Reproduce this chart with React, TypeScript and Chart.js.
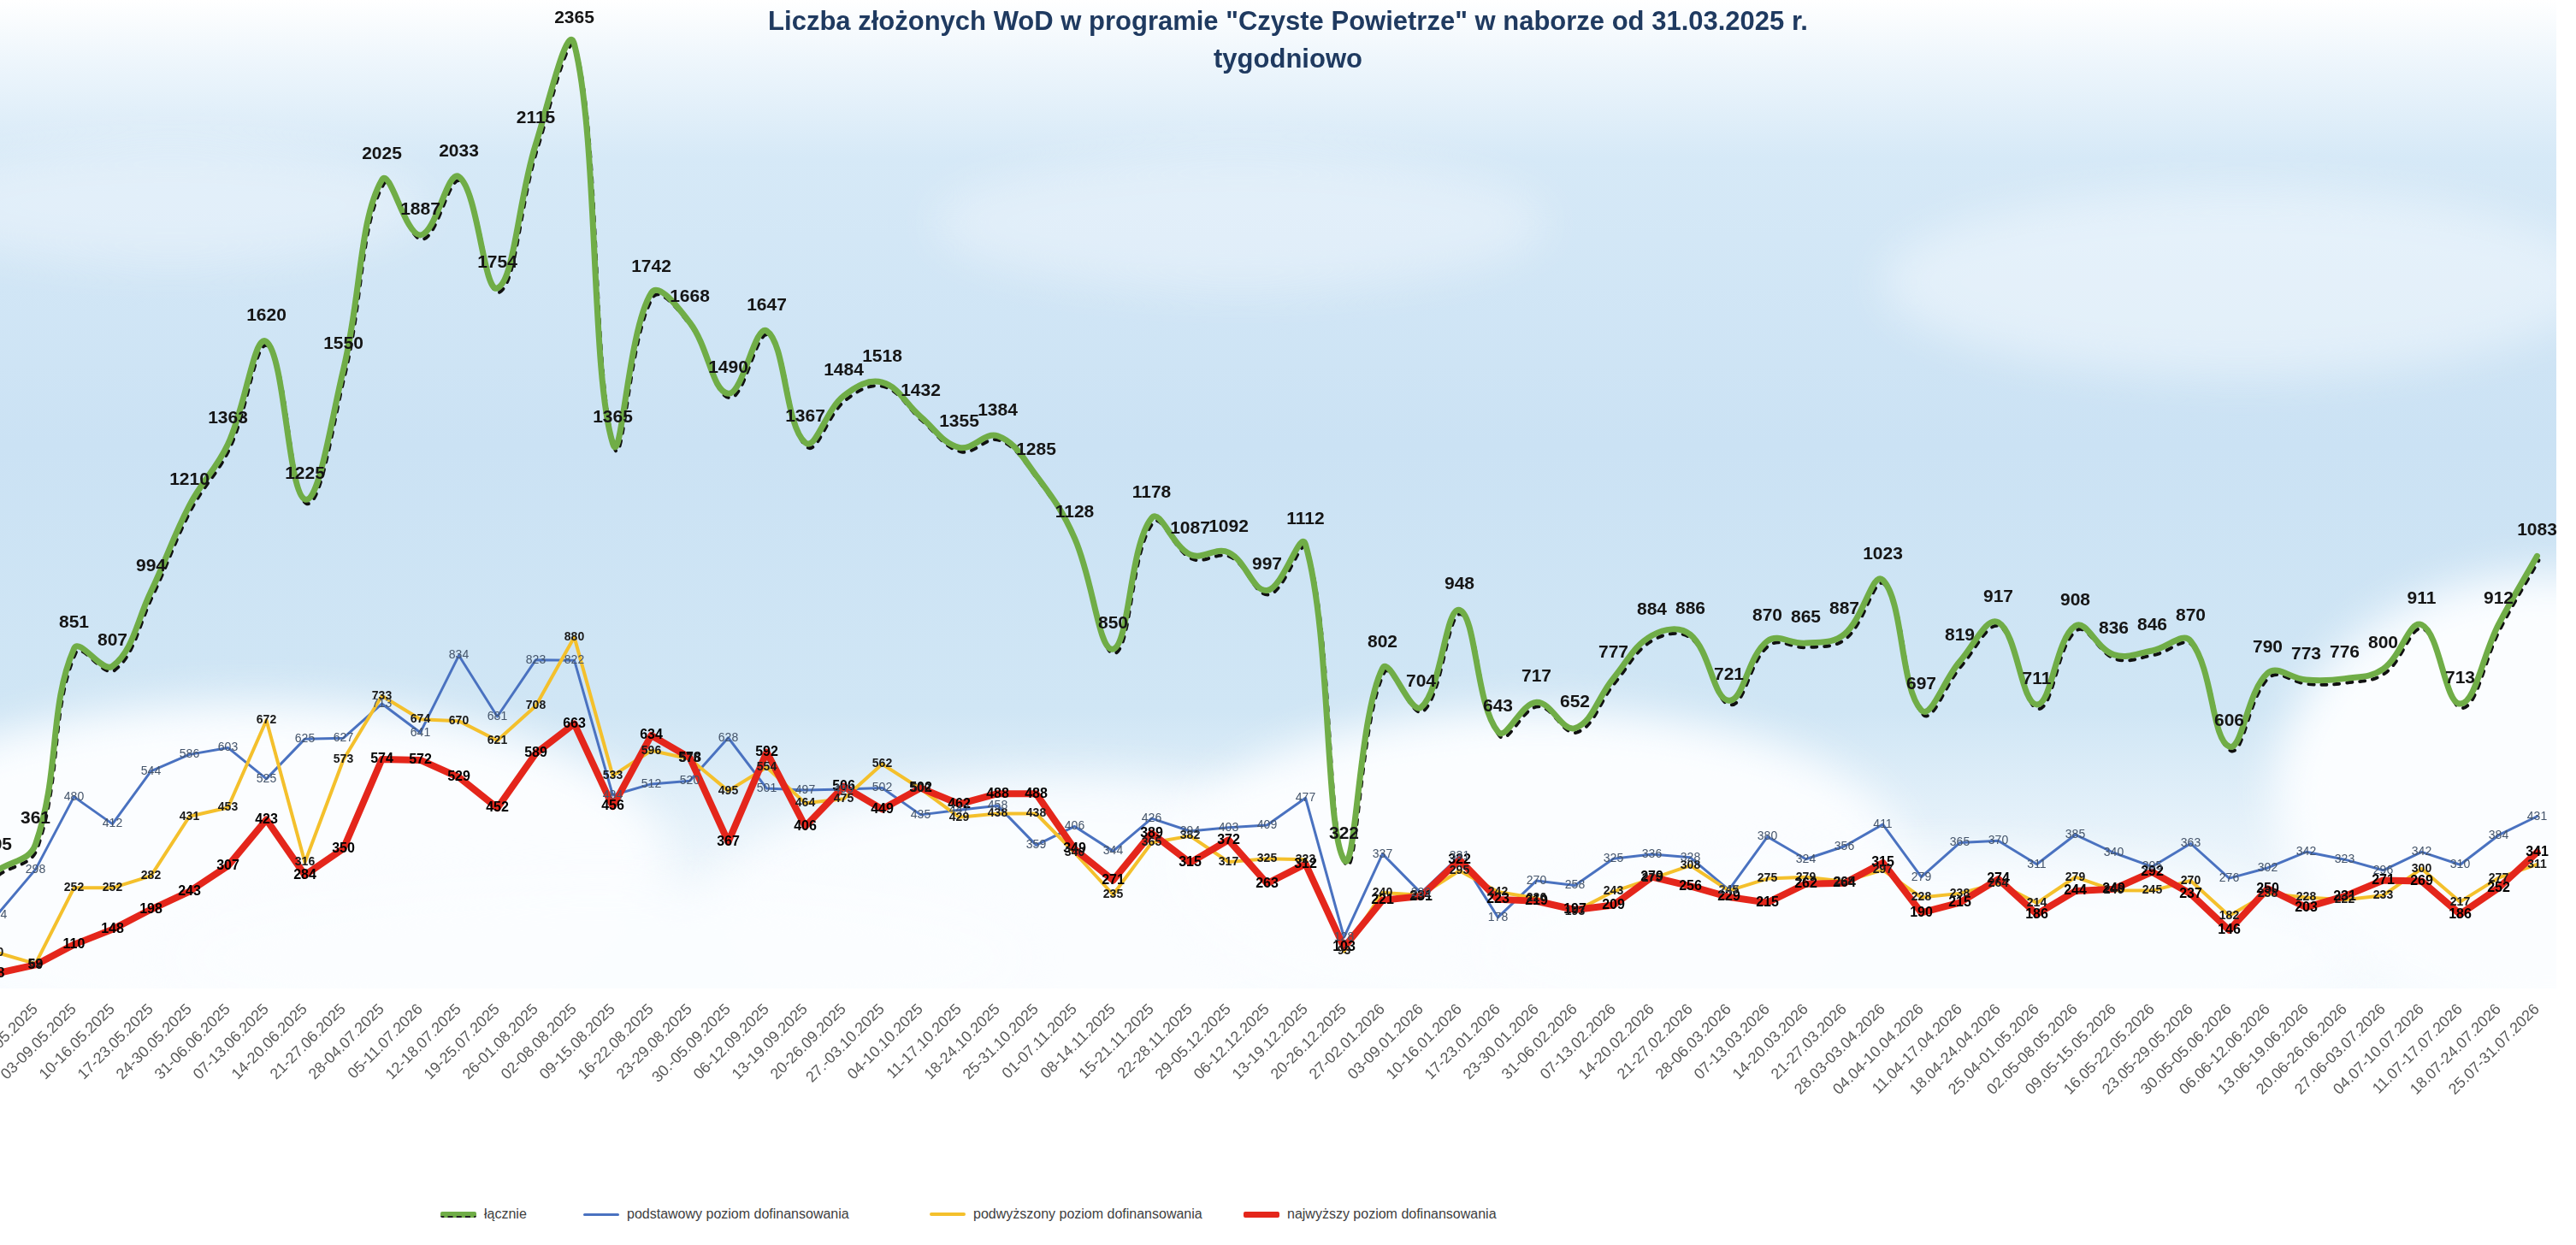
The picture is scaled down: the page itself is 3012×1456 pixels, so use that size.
import { useEffect, useRef } from "react";
import { Chart, registerables } from "chart.js";
Chart.register(...registerables);

const FONT = '"Liberation Sans", Arial, sans-serif';

const weeks = [
  "19-25.04.2025", "26-02.05.2025", "03-09.05.2025", "10-16.05.2025", "17-23.05.2025", "24-30.05.2025",
  "31-06.06.2025", "07-13.06.2025", "14-20.06.2025", "21-27.06.2025", "28-04.07.2025", "05-11.07.2026",
  "12-18.07.2025", "19-25.07.2025", "26-01.08.2025", "02-08.08.2025", "09-15.08.2025", "16-22.08.2025",
  "23-29.08.2025", "30.-05.09.2025", "06-12.09.2025", "13-19.09.2025", "20-26.09.2025", "27.-03.10.2025",
  "04-10.10.2025", "11-17.10.2025", "18-24.10.2025", "25-31.10.2025", "01-07.11.2025", "08-14.11.2025",
  "15-21.11.2025", "22-28.11.2025", "29-05.12.2025", "06-12.12.2025", "13-19.12.2025", "20-26.12.2025",
  "27-02.01.2026", "03-09.01.2026", "10-16.01.2026", "17-23.01.2026", "23-30.01.2026", "31-06.02.2026",
  "07-13.02.2026", "14-20.02.2026", "21-27.02.2026", "28-06.03.2026", "07-13.03.2026", "14-20.03.2026",
  "21-27.03.2026", "28.03-03.04.2026", "04.04-10.04.2026", "11.04-17.04.2026", "18.04-24.04.2026",
  "25.04-01.05.2026", "02.05-08.05.2026", "09.05-15.05.2026", "16.05-22.05.2026", "23.05-29.05.2026",
  "30.05-05.06.2026", "06.06-12.06.2026", "13.06-19.06.2026", "20.06-26.06.2026", "27.06-03.07.2026",
  "04.07-10.07.2026", "11.07-17.07.2026", "18.07-24.07.2026", "25.07-31.07.2026",
];

// łącznie
const total = [
  295, 361, 851, 807, 994, 1210, 1363, 1620, 1225, 1550, 2025, 1887, 2033, 1754, 2115, 2365, 1365,
  1742, 1668, 1490, 1647, 1367, 1484, 1518, 1432, 1355, 1384, 1285, 1128, 850, 1178, 1087, 1092, 997,
  1112, 322, 802, 704, 948, 643, 717, 652, 777, 884, 886, 721, 870, 865, 887, 1023, 697, 819, 917, 711,
  908, 836, 846, 870, 606, 790, 773, 776, 800, 911, 713, 912, 1083,
];

// podstawowy poziom dofinansowania
const basic = [
  184, 298, 480, 412, 544, 586, 603, 525, 625, 627, 713, 641, 834, 681, 823, 822, 484, 512, 520, 628,
  501, 497, 499, 502, 435, 447, 458, 359, 406, 344, 426, 394, 403, 409, 477, 128, 337, 239, 331, 178,
  270, 258, 325, 336, 328, 247, 380, 324, 356, 411, 279, 365, 370, 311, 385, 340, 305, 363, 276, 302,
  342, 323, 296, 342, 310, 384, 431,
];

// podwyższony poziom dofinansowania
const raised = [
  90, 62, 252, 252, 282, 431, 453, 672, 316, 573, 733, 674, 670, 621, 708, 880, 533, 596, 575, 495,
  554, 464, 475, 562, 500, 429, 438, 438, 340, 235, 365, 382, 317, 325, 323, 93, 240, 234, 295, 242,
  226, 193, 243, 275, 308, 245, 275, 279, 268, 297, 228, 238, 264, 214, 279, 246, 245, 270, 182, 238,
  228, 222, 233, 300, 217, 277, 311,
];

// najwyższy poziom dofinansowania
const highest = [
  38, 59, 110, 148, 198, 243, 307, 423, 284, 350, 574, 572, 529, 452, 589, 663, 456, 634, 578, 367,
  592, 406, 506, 449, 502, 462, 488, 488, 349, 271, 389, 315, 372, 263, 312, 103, 221, 231, 322, 223,
  219, 197, 209, 279, 256, 229, 215, 262, 264, 315, 190, 215, 274, 186, 244, 249, 292, 237, 146, 250,
  203, 231, 271, 269, 186, 252, 341,
];

const seriesNames = [
  "łącznie",
  "podstawowy poziom dofinansowania",
  "podwyższony poziom dofinansowania",
  "najwyższy poziom dofinansowania",
];
const seriesColors = ["#70ad47", "#4a72c0", "#f4c02c", "#e4261b"];

const TITLE_1 = 'Liczba złożonych WoD w programie "Czyste Powietrze" w naborze od 31.03.2025 r.';
const TITLE_2 = "tygodniowo";

// canvas sits a bit left of the page so the first week falls just off screen
const SHIFT = 26;

const labelStyle = [
  { font: `bold 21px ${FONT}`, color: "#151515", dy: -30 },
  { font: `14px ${FONT}`, color: "#44546a", dy: 0 },
  { font: `bold 14px ${FONT}`, color: "#1a1a1a", dy: 0 },
  { font: `bold 16px ${FONT}`, color: "#000000", dy: 0 },
];

// x, y (page px), rx, ry, alpha
const clouds = [
  [300, 1010, 480, 190, 1],
  [1250, 1060, 420, 150, 0.95],
  [1800, 1010, 430, 180, 1],
  [2250, 1110, 520, 110, 0.9],
  [2980, 930, 320, 260, 1],
  [700, 1120, 500, 90, 0.9],
  [2620, 330, 420, 110, 0.45],
  [1450, 260, 360, 80, 0.35],
  [200, 240, 300, 70, 0.35],
];

const skyPlugin = {
  id: "sky",
  beforeDatasetsDraw(chart: any) {
    const { ctx, chartArea: a } = chart;
    ctx.save();
    ctx.beginPath();
    ctx.rect(a.left, 0, a.right - a.left, a.bottom);
    ctx.clip();
    const g = ctx.createLinearGradient(0, 0, 0, a.bottom);
    g.addColorStop(0, "#ffffff");
    g.addColorStop(0.06, "#eef6fc");
    g.addColorStop(0.16, "#d6e9f7");
    g.addColorStop(0.45, "#cbe2f4");
    g.addColorStop(0.72, "#d0e6f5");
    g.addColorStop(0.86, "#eaf4fb");
    g.addColorStop(1, "#f6fbfe");
    ctx.fillStyle = g;
    ctx.fillRect(a.left, 0, a.right - a.left, a.bottom);
    ctx.filter = "blur(26px)";
    ctx.fillStyle = "#fbfdff";
    for (const [x, y, rx, ry, al] of clouds) {
      ctx.globalAlpha = al;
      ctx.beginPath();
      ctx.ellipse(x + SHIFT, y, rx, ry, 0, 0, Math.PI * 2);
      ctx.fill();
    }
    ctx.restore();
  },
};

const shadowPlugin = {
  id: "shadowShift",
  beforeDatasetDraw(chart: any, args: any) {
    if (args.index !== 4) return;
    chart.ctx.save();
    chart.ctx.translate(2, 5);
  },
  afterDatasetDraw(chart: any, args: any) {
    if (args.index !== 4) return;
    chart.ctx.restore();
  },
};

const valuesPlugin = {
  id: "values",
  afterDatasetsDraw(chart: any) {
    const { ctx } = chart;
    ctx.save();
    ctx.textAlign = "center";
    ctx.textBaseline = "middle";
    for (let d = 3; d >= 0; d--) {
      const meta = chart.getDatasetMeta(d);
      const st = labelStyle[d];
      ctx.font = st.font;
      ctx.fillStyle = st.color;
      meta.data.forEach((pt: any, i: number) => {
        ctx.fillText(String(chart.data.datasets[d].data[i]), pt.x, pt.y + st.dy);
      });
    }
    ctx.restore();
  },
};

const titlePlugin = {
  id: "pageTitle",
  afterDraw(chart: any) {
    const { ctx } = chart;
    ctx.save();
    ctx.textAlign = "center";
    ctx.textBaseline = "middle";
    ctx.fillStyle = "#1f3a60";
    ctx.font = `bold 31px ${FONT}`;
    ctx.fillText(TITLE_1, 1506 + SHIFT, 26);
    ctx.fillText(TITLE_2, 1506 + SHIFT, 70);
    ctx.restore();
  },
};

export default function App() {
  const canvasRef = useRef<HTMLCanvasElement | null>(null);

  useEffect(() => {
    if (!canvasRef.current) return;
    const ctx = canvasRef.current.getContext("2d");
    if (!ctx) return;

    const chart = new Chart(ctx, {
      type: "line",
      data: {
        labels: weeks,
        datasets: [
          { label: seriesNames[0], data: total, borderColor: seriesColors[0], borderWidth: 7, tension: 0.4, order: 4 },
          { label: seriesNames[1], data: basic, borderColor: seriesColors[1], borderWidth: 3, tension: 0, order: 3 },
          { label: seriesNames[2], data: raised, borderColor: seriesColors[2], borderWidth: 4, tension: 0, order: 2 },
          { label: seriesNames[3], data: highest, borderColor: seriesColors[3], borderWidth: 8, tension: 0, order: 1 },
          { label: "shadow", data: total, borderColor: "#111111", borderWidth: 4, borderDash: [6, 9], tension: 0.4, order: 5 },
        ],
      },
      options: {
        animation: false,
        responsive: true,
        maintainAspectRatio: false,
        layout: { padding: { top: 12, left: 0, right: 23, bottom: 0 } },
        elements: {
          point: { radius: 0, hoverRadius: 0 },
          line: { borderJoinStyle: "round", borderCapStyle: "round", fill: false },
        },
        plugins: { legend: { display: false }, tooltip: { enabled: false } },
        scales: {
          x: {
            offset: true,
            grid: { display: false, drawTicks: false },
            border: { display: false },
            ticks: {
              autoSkip: false,
              maxRotation: 45,
              minRotation: 45,
              padding: 14,
              color: "#595959",
              font: { size: 18, family: FONT },
            },
            afterFit: (s: any) => {
              s.height = 150;
              s.paddingLeft = 0;
              s.paddingRight = 0;
            },
          },
          y: { display: false, min: 0, max: 2450 },
        },
      },
      plugins: [skyPlugin, shadowPlugin, valuesPlugin, titlePlugin],
    });

    return () => chart.destroy();
  }, []);

  const legendLeft = [515, 682, 1087, 1454];
  const legendWidth = [5, 3, 4, 7];

  return (
    <div style={{ position: "absolute", left: 0, top: 0, width: 3012, height: 1456, overflow: "hidden", background: "#fff", fontFamily: FONT }}>
      <div style={{ position: "absolute", left: -SHIFT, top: 0, width: 3015 + 23, height: 1306 }}>
        <canvas ref={canvasRef} />
      </div>
      {seriesNames.map((name, i) => (
        <div key={name} style={{ position: "absolute", left: legendLeft[i], top: 1411, display: "flex", alignItems: "center", whiteSpace: "nowrap" }}>
          <span style={{ display: "inline-block", width: 42, height: legendWidth[i], background: seriesColors[i], borderBottom: i === 0 ? "2px dashed #222" : "none", borderRadius: 2 }} />
          <span style={{ marginLeft: 9, fontSize: 16, color: "#404040" }}>{name}</span>
        </div>
      ))}
    </div>
  );
}
